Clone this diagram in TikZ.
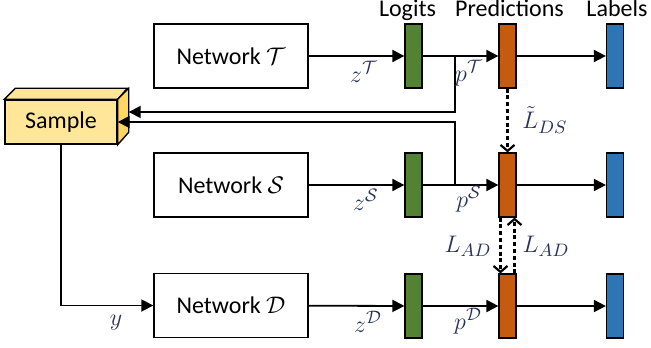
\documentclass[tikz,border=0pt]{standalone}
\usepackage{amsmath,amssymb}
\usepackage{fontspec}
\setmainfont{Carlito}
\usetikzlibrary{arrows.meta,positioning,calc}
\definecolor{lggreen}{RGB}{84,130,53}
\definecolor{prorange}{RGB}{197,90,17}
\definecolor{lbblue}{RGB}{46,117,182}
\definecolor{smpfront}{RGB}{255,230,153}
\definecolor{smpside}{RGB}{255,214,95}
\definecolor{mathink}{RGB}{40,50,90}

\begin{document}
\begin{tikzpicture}[x=0.5pt,y=-0.5pt,line width=0.9pt,>={Triangle[length=6pt,width=6pt]},
  netbox/.style={draw,line width=0.7pt,minimum width=77pt,minimum height=32pt,inner sep=0pt,font=\fontsize{12}{14}\selectfont},
  bar/.style={draw,line width=0.6pt,minimum width=8.5pt,minimum height=32pt,inner sep=0pt},
  head/.style={font=\fontsize{12}{14}\selectfont,inner sep=0pt,anchor=base},
  mlab/.style={font=\fontsize{13}{15}\selectfont,text=mathink,inner sep=0pt},
  lossline/.style={line width=1.1pt,dash pattern=on 2pt off 1.4pt,-{Straight Barb[length=3pt,width=7pt]}}]
  \useasboundingbox (0,0) rectangle (651,347);
  % three networks
  \node[netbox] (netT) at (231,56)  {Network $\mathcal{T}$};
  \node[netbox] (netS) at (231,185) {Network $\mathcal{S}$};
  \node[netbox] (netD) at (231,305.5) {Network $\mathcal{D}$};
  % logits / predictions / labels bars
  \foreach \r/\y in {T/56,S/185,D/306}{
    \node[bar,fill=lggreen]  (log\r)  at (413.5,\y) {};
    \node[bar,fill=prorange] (pred\r) at (507.5,\y) {};
    \node[bar,fill=lbblue]   (lab\r)  at (615,\y) {};
    \draw[->] (net\r) -- (log\r);
    \draw[->] (log\r) -- (pred\r);
    \draw[->] (pred\r) -- (lab\r);
  }
  \node[head] (hlog)  at ([xshift=-3pt,yshift=3.5pt]logT.north)  {Logits};
  \node[head] (hpred) at ([xshift=1pt,yshift=3.5pt]predT.north) {Predictions};
  \node[head] (hlab)  at ([xshift=1pt,yshift=3.5pt]labT.north)  {Labels};
  % sample block (3d box)
  \node[draw,fill=smpfront,line width=0.7pt,minimum width=56pt,minimum height=22pt,inner sep=0pt,
    font=\fontsize{12}{14}\selectfont] (sample) at (61,122) {Sample};
  \draw[fill=smpfront,line width=0.7pt] (sample.north west) -- ++(11,-11) -- ++(112,0) -- (sample.north east) -- cycle;
  \draw[fill=smpside,line width=0.7pt] (sample.north east) -- ++(11,-11) -- ++(0,44) -- (sample.south east) -- cycle;
  \coordinate (sback) at ($(sample.east)+(11,-10)$);
  % feedback to sample
  \coordinate (brT) at (455,56);
  \coordinate (brS) at (455,185);
  \draw[->] (brT) |- (sback);
  \draw[->] (brS) |- (sample.east);
  \draw[->] (sample.south) |- (netD.west);
  % losses
  \draw[lossline] (predT.south) -- (predS.north);
  \draw[lossline] ([xshift=-3.5pt]predS.south) -- ([xshift=-3.5pt]predD.north);
  \draw[lossline] ([xshift=3.5pt]predD.north) -- ([xshift=3.5pt]predS.south);
  % math labels
  \node[mlab] (zT) at (364,72) {$z^{\mathcal{T}}$};
  \node[mlab] (zS) at (366,200) {$z^{\mathcal{S}}$};
  \node[mlab] (zD) at (368,322) {$z^{\mathcal{D}}$};
  \node[mlab] (pT) at (469,73) {$p^{\mathcal{T}}$};
  \node[mlab] (pS) at (469,199) {$p^{\mathcal{S}}$};
  \node[mlab] (pD) at (468,321) {$p^{\mathcal{D}}$};
  \node[mlab] (ldsT) at (545,120) {$\tilde{L}_{DS}$};
  \node[mlab] (ladL) at (468,246) {$L_{AD}$};
  \node[mlab] (ladR) at (546,246) {$L_{AD}$};
  \node[mlab] (yin) at (116,323) {$y$};
\end{tikzpicture}
\end{document}
